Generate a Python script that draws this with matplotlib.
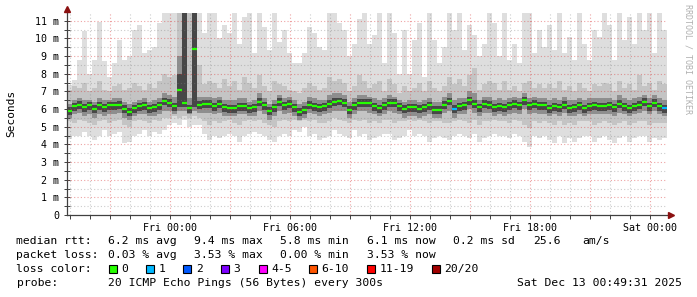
import numpy as np
import matplotlib
matplotlib.use("Agg")
import matplotlib.pyplot as plt
from matplotlib.patches import Rectangle

# 15 minute steps, hours relative to Fri 00:00
t_start = -5.15
step = 0.25

median = [5.9, 6.15, 6.25, 6.1, 6.2, 6.0, 6.2, 6.1, 6.2, 6.2, 6.25, 6.0, 5.85, 6.05, 6.15, 6.2, 6.05, 6.1, 6.2, 6.45, 6.35, 6.15, 7.05, 6.35,
          6.05, 9.4, 6.25, 6.3, 6.3, 6.15, 6.3, 6.1, 6.05, 6.05, 6.15, 6.15, 6.05, 6.1, 6.4, 6.2, 5.9, 6.1, 6.4, 6.2, 6.3, 6.1, 5.85, 5.95,
          6.25, 6.15, 6.1, 6.15, 6.3, 6.4, 6.45, 6.35, 5.95, 6.2, 6.35, 6.35, 6.35, 6.15, 6.05, 6.2, 6.35, 6.35, 6.15, 6.0, 6.1, 6.1, 6.0, 6.1,
          6.2, 5.95, 5.95, 6.25, 6.45, 6.0, 6.15, 6.2, 6.5, 6.3, 6.1, 6.3, 6.25, 6.1, 6.15, 6.1, 6.2, 6.3, 6.2, 6.5, 6.2, 6.3, 6.2, 6.2,
          6.05, 6.15, 6.1, 6.25, 6.05, 6.1, 6.2, 6.05, 6.15, 6.2, 6.15, 6.15, 6.2, 6.1, 6.3, 6.15, 6.05, 6.15, 6.25, 6.4, 6.15, 6.35, 6.15, 6.05]

loss = [0] * 120
loss[77] = 1
loss[119] = 1

ping_max = [7.35, 7.65, 8.8, 10.4, 8.0, 8.8, 10.95, 8.7, 7.8, 8.6, 9.9, 8.8, 9.0, 10.5, 10.75, 9.15, 9.35, 9.5, 10.85, 12, 12, 12, 12, 12,
            12, 12, 12, 10.3, 12, 12, 10.0, 10.75, 10.3, 12, 9.7, 11.2, 12, 9.15, 12, 10.65, 9.35, 12, 9.8, 10.5, 9.15, 8.6, 8.6, 9.15,
            10.65, 10.3, 9.5, 9.35, 12, 12, 10.85, 10.5, 9.0, 9.7, 11.1, 12, 9.7, 10.2, 12, 8.6, 12, 10.3, 8.0, 10.5, 8.0, 9.9, 10.85, 7.8,
            12, 9.9, 8.6, 9.5, 12, 10.5, 12, 9.35, 10.75, 10.2, 9.0, 9.7, 12, 10.85, 9.0, 12, 8.8, 9.7, 8.6, 12, 12, 9.15, 10.5, 9.5,
            10.75, 9.35, 12, 9.15, 10.1, 8.8, 12, 9.7, 8.8, 10.5, 10.1, 12, 10.75, 8.8, 12, 9.9, 11.2, 9.7, 12, 10.5, 12, 9.15, 12, 10.5]

ping_min = [4.3, 4.45, 4.5, 4.7, 4.45, 4.25, 4.5, 4.8, 4.45, 4.6, 4.7, 4.05, 4.15, 4.45, 4.6, 4.8, 4.5, 4.7, 4.6, 4.8, 5.1, 5.2, 5.1, 5.4,
            5.0, 5.1, 5.1, 4.6, 4.25, 4.5, 4.35, 4.5, 4.6, 4.45, 4.15, 4.45, 4.6, 4.7, 4.6, 4.45, 4.25, 4.15, 4.45, 4.6, 4.5, 4.8, 4.7, 5.0,
            4.5, 4.6, 4.25, 4.35, 4.45, 4.8, 4.6, 4.5, 4.35, 4.8, 4.5, 4.6, 4.25, 4.35, 4.45, 4.6, 4.6, 4.25, 4.35, 4.5, 4.8, 4.45, 4.6, 4.5,
            4.15, 4.35, 4.5, 4.35, 4.25, 4.5, 4.6, 4.45, 4.35, 4.6, 4.15, 4.35, 4.5, 4.6, 4.45, 4.5, 4.35, 4.6, 4.5, 4.15, 3.85, 4.45, 4.35, 4.5,
            4.25, 4.05, 4.45, 4.05, 4.35, 4.15, 4.35, 4.5, 4.45, 4.15, 4.35, 4.5, 4.25, 4.05, 4.35, 4.45, 4.15, 4.35, 4.45, 4.5, 4.15, 4.35, 4.25, 4.35]

mid_hi = [7.1, 7.3, 7.2, 7.5, 7.0, 7.2, 7.6, 7.1, 7.0, 7.3, 7.4, 7.1, 7.2, 7.5, 7.3, 7.1, 7.4, 7.2, 7.6, 8.0, 7.8, 7.9, 12, 9.5,
          12, 12, 8.5, 7.4, 7.6, 7.5, 7.2, 7.7, 7.3, 7.6, 7.1, 7.8, 7.5, 7.2, 7.9, 7.3, 7.0, 7.6, 7.4, 7.3, 7.1, 7.0, 6.9, 7.2,
          7.5, 7.3, 7.1, 7.2, 7.8, 7.6, 7.7, 7.5, 7.0, 7.3, 7.9, 7.6, 7.2, 7.4, 7.6, 7.0, 7.7, 7.4, 6.9, 7.3, 7.0, 7.2, 7.5, 7.0,
          7.6, 7.2, 7.0, 7.3, 7.8, 7.4, 7.7, 7.3, 7.9, 8.3, 7.1, 7.4, 7.6, 7.5, 7.1, 7.6, 7.1, 7.3, 7.0, 7.5, 7.6, 7.2, 7.4, 7.2,
          7.4, 7.2, 7.6, 7.1, 7.3, 7.0, 7.5, 7.2, 7.0, 7.4, 7.3, 7.5, 7.4, 7.0, 7.6, 7.2, 7.4, 7.1, 7.9, 7.3, 7.5, 7.1, 7.6, 7.4]

mid_lo = [5.3, 5.2, 5.4, 5.3, 5.2, 5.1, 5.3, 5.4, 5.2, 5.3, 5.4, 5.1, 5.0, 5.3, 5.4, 5.3, 5.2, 5.4, 5.3, 5.5, 5.5, 5.6, 5.5, 5.6,
          5.5, 5.6, 5.5, 5.3, 5.1, 5.3, 5.2, 5.3, 5.4, 5.2, 5.1, 5.3, 5.4, 5.3, 5.4, 5.2, 5.1, 5.0, 5.3, 5.4, 5.3, 5.4, 5.3, 5.4,
          5.3, 5.4, 5.2, 5.2, 5.3, 5.5, 5.4, 5.3, 5.2, 5.4, 5.3, 5.4, 5.2, 5.3, 5.2, 5.4, 5.4, 5.2, 5.3, 5.3, 5.4, 5.3, 5.4, 5.3,
          5.2, 5.3, 5.3, 5.2, 5.2, 5.3, 5.4, 5.3, 5.2, 5.4, 5.1, 5.3, 5.3, 5.4, 5.3, 5.3, 5.2, 5.4, 5.3, 5.1, 4.9, 5.3, 5.2, 5.3,
          5.2, 5.1, 5.3, 5.1, 5.2, 5.1, 5.3, 5.3, 5.3, 5.1, 5.2, 5.3, 5.2, 5.1, 5.2, 5.3, 5.1, 5.2, 5.3, 5.3, 5.1, 5.2, 5.2, 5.2]

inner_hi = [6.3, 6.5, 6.6, 6.5, 6.5, 6.4, 6.6, 6.5, 6.5, 6.6, 6.6, 6.4, 6.3, 6.4, 6.5, 6.6, 6.4, 6.5, 6.6, 6.9, 6.8, 6.7, 9.0, 12,
            6.6, 12, 6.7, 6.7, 6.7, 6.6, 6.7, 6.5, 6.5, 6.5, 6.6, 6.6, 6.4, 6.5, 6.9, 6.6, 6.3, 6.5, 6.8, 6.6, 6.7, 6.5, 6.3, 6.4,
            6.7, 6.6, 6.5, 6.5, 6.8, 6.9, 6.9, 6.8, 6.4, 6.6, 6.8, 6.8, 6.7, 6.6, 6.5, 6.6, 6.8, 6.7, 6.5, 6.4, 6.5, 6.5, 6.4, 6.5,
            6.6, 6.4, 6.4, 6.7, 6.9, 6.5, 6.6, 6.6, 7.0, 6.9, 6.5, 6.7, 6.7, 6.5, 6.6, 6.5, 6.6, 6.7, 6.6, 6.9, 6.6, 6.7, 6.6, 6.6,
            6.5, 6.6, 6.5, 6.7, 6.5, 6.5, 6.6, 6.5, 6.6, 6.6, 6.6, 6.6, 6.6, 6.5, 6.8, 6.6, 6.5, 6.6, 6.7, 6.8, 6.6, 6.8, 6.6, 6.5]

inner_lo = [5.5, 5.7, 5.8, 5.6, 5.7, 5.5, 5.7, 5.6, 5.7, 5.7, 5.8, 5.5, 5.4, 5.6, 5.7, 5.7, 5.6, 5.6, 5.7, 5.9, 5.9, 5.7, 5.9, 5.9,
            5.7, 5.9, 5.8, 5.8, 5.8, 5.7, 5.8, 5.6, 5.6, 5.6, 5.7, 5.7, 5.6, 5.6, 5.9, 5.7, 5.4, 5.6, 5.9, 5.7, 5.8, 5.6, 5.4, 5.5,
            5.8, 5.7, 5.6, 5.7, 5.8, 5.9, 5.9, 5.9, 5.5, 5.7, 5.9, 5.9, 5.8, 5.7, 5.6, 5.7, 5.9, 5.8, 5.7, 5.5, 5.6, 5.6, 5.5, 5.6,
            5.7, 5.5, 5.5, 5.8, 5.9, 5.5, 5.7, 5.7, 6.0, 5.8, 5.6, 5.8, 5.8, 5.6, 5.7, 5.6, 5.7, 5.8, 5.7, 6.0, 5.7, 5.8, 5.7, 5.7,
            5.6, 5.7, 5.6, 5.8, 5.6, 5.6, 5.7, 5.6, 5.7, 5.7, 5.7, 5.7, 5.7, 5.6, 5.8, 5.7, 5.6, 5.7, 5.8, 5.9, 5.7, 5.9, 5.7, 5.6]

core_hi = [6.1, 6.35, 6.45, 6.3, 6.4, 6.2, 6.4, 6.3, 6.4, 6.4, 6.45, 6.2, 6.05, 6.25, 6.35, 6.4, 6.25, 6.3, 6.4, 6.65, 6.55, 6.35, 8.0, 12,
           6.25, 12, 6.45, 6.5, 6.5, 6.35, 6.5, 6.3, 6.25, 6.25, 6.35, 6.35, 6.25, 6.3, 6.6, 6.4, 6.1, 6.3, 6.6, 6.4, 6.5, 6.3, 6.05, 6.15,
           6.45, 6.35, 6.3, 6.35, 6.5, 6.6, 6.65, 6.55, 6.15, 6.4, 6.55, 6.55, 6.55, 6.35, 6.25, 6.4, 6.55, 6.55, 6.35, 6.2, 6.3, 6.3, 6.2, 6.3,
           6.4, 6.15, 6.15, 6.45, 6.65, 6.2, 6.35, 6.4, 6.7, 6.5, 6.3, 6.5, 6.45, 6.3, 6.35, 6.3, 6.4, 6.5, 6.4, 6.7, 6.4, 6.5, 6.4, 6.4,
           6.25, 6.35, 6.3, 6.45, 6.25, 6.3, 6.4, 6.25, 6.35, 6.4, 6.35, 6.35, 6.4, 6.3, 6.5, 6.35, 6.25, 6.35, 6.45, 6.6, 6.35, 6.55, 6.35, 6.25]

core_lo = [5.65, 5.9, 6.0, 5.85, 5.95, 5.75, 5.95, 5.85, 5.95, 5.95, 6.0, 5.75, 5.6, 5.8, 5.9, 5.95, 5.8, 5.85, 5.95, 6.2, 6.1, 5.9, 6.1, 6.1,
           5.8, 6.1, 6.0, 6.05, 6.05, 5.9, 6.05, 5.85, 5.8, 5.8, 5.9, 5.9, 5.8, 5.85, 6.15, 5.95, 5.65, 5.85, 6.15, 5.95, 6.05, 5.85, 5.6, 5.7,
           6.0, 5.9, 5.85, 5.9, 6.05, 6.15, 6.2, 6.1, 5.7, 5.95, 6.1, 6.1, 6.1, 5.9, 5.8, 5.95, 6.1, 6.1, 5.9, 5.75, 5.85, 5.85, 5.75, 5.85,
           5.95, 5.7, 5.7, 6.0, 6.2, 5.75, 5.9, 5.95, 6.25, 6.05, 5.85, 6.05, 6.0, 5.85, 5.9, 5.85, 5.95, 6.05, 5.95, 6.25, 5.95, 6.05, 5.95, 5.95,
           5.8, 5.9, 5.85, 6.0, 5.8, 5.85, 5.95, 5.8, 5.9, 5.95, 5.9, 5.9, 5.95, 5.85, 6.05, 5.9, 5.8, 5.9, 6.0, 6.15, 5.9, 6.1, 5.9, 5.8]

time_ticks = [0, 6, 12, 18, 24]
time_labels = ["Fri 00:00", "Fri 06:00", "Fri 12:00", "Fri 18:00", "Sat 00:00"]
y_ticks = list(range(12))
y_labels = ["0"] + ["%d m" % v for v in range(1, 12)]

loss_colors = {0: "#26ff00", 1: "#00b8ff", 2: "#0059ff", 3: "#7e00ff",
               4: "#ff00ff", 6: "#ff5500", 11: "#ff0000", 20: "#a10000"}
legend_items = [("0", 0), ("1", 1), ("2", 2), ("3", 3), ("4-5", 4), ("6-10", 6), ("11-19", 11), ("20/20", 20)]
legend_box_x = [108.5, 146, 183.5, 221, 258.5, 309, 367, 432]

rtt_line = [("6.2 ms avg", 108.5), ("9.4 ms max", 194), ("5.8 ms min", 280), ("6.1 ms now", 367),
            ("0.2 ms sd", 453), ("25.6", 533), ("am/s", 582)]
loss_line = [("0.03 % avg", 108.5), ("3.53 % max", 194), ("0.00 % min", 280), ("3.53 % now", 367)]

MONO = "DejaVu Sans Mono"
W, H = 697, 297


def fx(px):
    return px / W


def fy(py):
    return 1 - py / H


fig = plt.figure(figsize=(W / 100, H / 100), dpi=100)
fig.patch.set_facecolor("white")
ax = fig.add_axes([fx(67), fy(215), 600 / W, (215 - 13.3) / H])

n = len(median)
edges = t_start + step * np.arange(n + 1)


def band(lo, hi, color):
    lo = list(lo) + [lo[-1]]
    hi = list(hi) + [hi[-1]]
    ax.fill_between(edges, lo, hi, step="post", color=color, linewidth=0, zorder=1)


# smoke, lightest outside, darkest around the median
band(ping_min, ping_max, "#dedede")
band(mid_lo, mid_hi, "#c4c4c4")
band(inner_lo, inner_hi, "#8e8e8e")
band(core_lo, core_hi, "#474747")

cols = [loss_colors[v] for v in loss]
ax.hlines(median, edges[:-1], edges[1:], colors=cols, linewidth=1.6, zorder=4)

ax.set_xlim(t_start, t_start + step * n)
ax.set_ylim(0, 11.42)

# grid on top, semi transparent like rrdtool
for h in range(-5, 25):
    if h % 3 == 0:
        ax.axvline(h, color=(0.85, 0.2, 0.2, 0.45), linewidth=0.8, linestyle=(0, (1, 2)), zorder=3)
    else:
        ax.axvline(h, color=(0.5, 0.5, 0.5, 0.4), linewidth=0.8, linestyle=(0, (1, 2)), zorder=3)
for v in np.arange(0.5, 11.5, 0.5):
    if v % 1 == 0:
        ax.axhline(v, color=(0.85, 0.2, 0.2, 0.45), linewidth=0.8, linestyle=(0, (1, 2)), zorder=3)
    else:
        ax.axhline(v, color=(0.5, 0.5, 0.5, 0.4), linewidth=0.8, linestyle=(0, (1, 2)), zorder=3)

for s in ax.spines.values():
    s.set_visible(False)

ax.set_xticks(time_ticks)
ax.set_xticklabels(time_labels, family=MONO, fontsize=7.2)
ax.set_xticks(np.arange(-5, 25, 1), minor=True)
ax.set_yticks(y_ticks)
ax.set_yticklabels(y_labels, family=MONO, fontsize=7.2)
ax.set_yticks(np.arange(0.5, 11.5, 0.5), minor=True)
ax.tick_params(axis="x", which="both", direction="out", length=3, width=0.7, color="#404040", pad=3)
ax.tick_params(axis="y", which="both", direction="inout", length=4, width=0.7, color="#404040", pad=3.5)

# axes with arrows
ax.plot([0, 0], [0, 1.0], transform=ax.transAxes, color="#404040", linewidth=0.9, clip_on=False, zorder=5)
ax.plot([0, 1.003], [0, 0], transform=ax.transAxes, color="#404040", linewidth=0.9, clip_on=False, zorder=5)
ax.plot([0], [1.02], transform=ax.transAxes, marker="^", markersize=4.5, color="#8b1010", clip_on=False, zorder=6)
ax.plot([1.007], [0], transform=ax.transAxes, marker=">", markersize=4.5, color="#8b1010", clip_on=False, zorder=6)

fig.text(fx(11), fy(113), "Seconds", rotation=90, ha="center", va="center", family=MONO, fontsize=8)
fig.text(fx(688), fy(4), "RRDTOOL / TOBI OETIKER", rotation=270, ha="center", va="top",
         family=MONO, fontsize=6, color="#b0b0b0")

fs = 8.2
fig.text(fx(16.5), fy(241), "median rtt:", family=MONO, fontsize=fs, va="center")
for s, x in rtt_line:
    fig.text(fx(x), fy(241), s, family=MONO, fontsize=fs, va="center")
fig.text(fx(16.5), fy(255), "packet loss:", family=MONO, fontsize=fs, va="center")
for s, x in loss_line:
    fig.text(fx(x), fy(255), s, family=MONO, fontsize=fs, va="center")
fig.text(fx(16.5), fy(269), "loss color:", family=MONO, fontsize=fs, va="center")
for (label, key), x in zip(legend_items, legend_box_x):
    fig.patches.append(Rectangle((fx(x), fy(273)), 8 / W, 8 / H, transform=fig.transFigure,
                                 facecolor=loss_colors[key], edgecolor="black", linewidth=0.8))
    fig.text(fx(x + 12.5), fy(269), label, family=MONO, fontsize=fs, va="center")
fig.text(fx(16.5), fy(283), "probe:", family=MONO, fontsize=fs, va="center")
fig.text(fx(108.5), fy(283), "20 ICMP Echo Pings (56 Bytes) every 300s", family=MONO, fontsize=fs, va="center")
fig.text(fx(682), fy(283), "Sat Dec 13 00:49:31 2025", family=MONO, fontsize=fs, va="center", ha="right")

fig.savefig("out.png", dpi=100)
